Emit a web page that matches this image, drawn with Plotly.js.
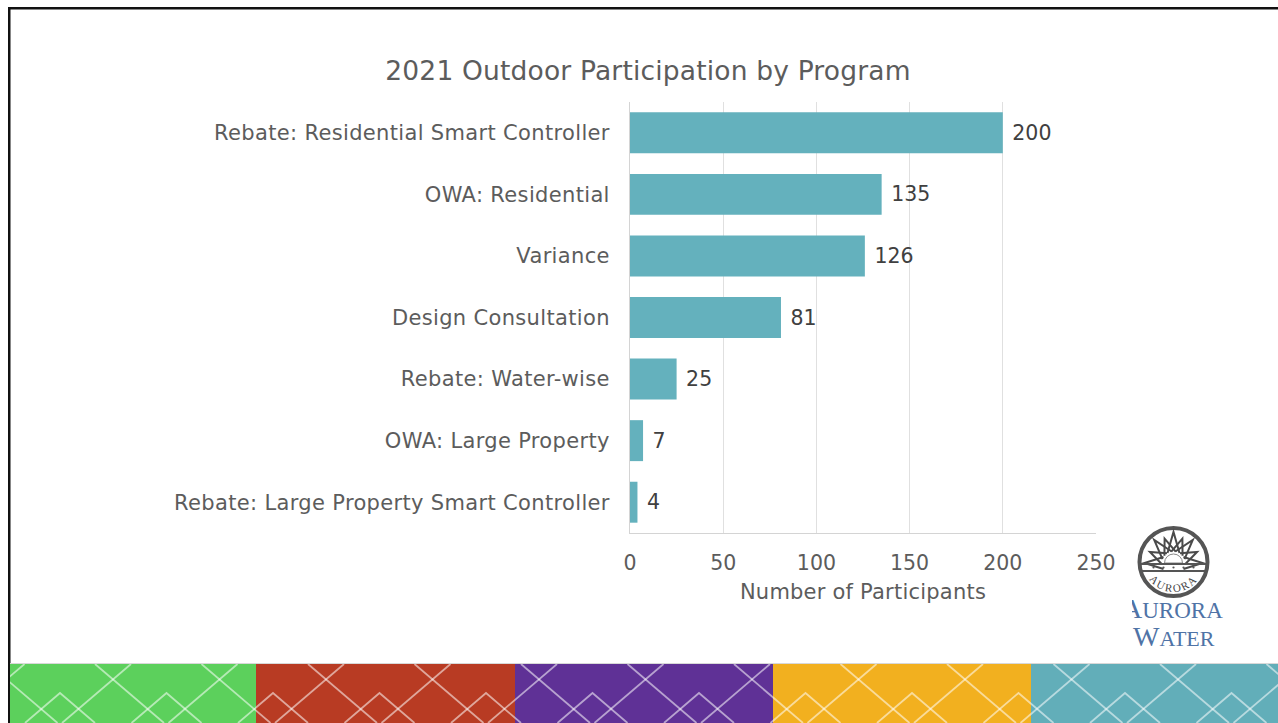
<!DOCTYPE html>
<html>
<head>
<meta charset="utf-8">
<script src="https://cdn.plot.ly/plotly-3.0.1.min.js"></script>
<style>
html,body{margin:0;padding:0;background:#fff;width:1278px;height:723px;overflow:hidden}
#deco{position:absolute;left:0;top:0;z-index:0}
#chart{position:absolute;left:0;top:0;width:1278px;height:723px;z-index:1}
#chart .ytick text{letter-spacing:.34px}
#chart .g-xtitle text{letter-spacing:.22px}
#chart .gtitle{letter-spacing:.17px}
</style>
</head>
<body>
<svg id="deco" width="1278" height="723" xmlns="http://www.w3.org/2000/svg"></svg>
<div id="chart"></div>
<script>
const categories = ["Rebate: Residential Smart Controller","OWA: Residential","Variance","Design Consultation","Rebate: Water-wise","OWA: Large Property","Rebate: Large Property Smart Controller"];
const participants = [200,135,126,81,25,7,4];
const xTicks = [0,50,100,150,200,250];
const bandColors = ["#5CD05C","#B83B23","#5F3196","#F2B01F","#62AEB9"];
const bandEdges = [10,256,515,773,1031,1278];

const FONT = '"DejaVu Sans", Verdana, sans-serif';
const NS = "http://www.w3.org/2000/svg";
const deco = document.getElementById("deco");
function el(name, attrs, parent, text){
  const e = document.createElementNS(NS, name);
  for (const k in attrs) e.setAttribute(k, attrs[k]);
  if (text) e.textContent = text;
  (parent || deco).appendChild(e);
  return e;
}
// slide frame
el("rect",{x:8,y:7,width:1270,height:2.5,fill:"#111"});
el("rect",{x:8,y:7,width:2.5,height:716,fill:"#111"});
// footer band
el("rect",{x:10,y:663,width:1268,height:1,fill:"#d8d8d8"});
bandColors.forEach((c,i)=>el("rect",{x:bandEdges[i],y:664,width:bandEdges[i+1]-bandEdges[i],height:59,fill:c}));
const clip = el("clipPath",{id:"bandClip"}); el("rect",{x:10,y:664,width:1268,height:59},clip);
const lines = el("g",{"clip-path":"url(#bandClip)",stroke:"rgba(255,255,255,0.55)","stroke-width":1.8,fill:"none"});
for (let k=-1;k<13;k++){
  const c = 113+106.5*k;
  el("path",{d:`M${c-18} 664L${c+51} 723`},lines);
  el("path",{d:`M${c+18} 664L${c-51} 723`},lines);
  el("path",{d:`M${c-88} 723L${c-53} 693L${c-18} 723`},lines);
}
// logo
const logo = el("g",{});
const cx=1173.5, cy=562;
el("circle",{cx,cy,r:34,fill:"#fff",stroke:"#555","stroke-width":4},logo);
[-180,-155,-130,-110,-90,-70,-50,-25,0].forEach((a,i)=>{
  const r=[29,26,30,26,31,26,30,26,29][i], ar=a*Math.PI/180, p=(a+90)*Math.PI/180, b=6;
  const bx=cx+10*Math.cos(ar), by=cy+1+10*Math.sin(ar);
  el("path",{d:`M${bx-b*Math.cos(p)} ${by-b*Math.sin(p)}L${cx+r*Math.cos(ar)} ${cy+1+r*Math.sin(ar)}L${bx+b*Math.cos(p)} ${by+b*Math.sin(p)}`,fill:"none",stroke:"#4a4a4a","stroke-width":2},logo);
});
el("path",{d:`M${cx-9} ${cy+1}A9 9 0 0 1 ${cx+9} ${cy+1}Z`,fill:"#fff",stroke:"#888","stroke-width":1},logo);
el("path",{d:`M${cx-33} ${cy+2}H${cx+33}M${cx-33} ${cy+9}H${cx+33}`,stroke:"#555","stroke-width":1.8,fill:"none"},logo);
[-20,-10,0,10,20].forEach(d=>el("circle",{cx:cx+d,cy:cy+5.5,r:1.1,fill:"#555"},logo));
el("path",{id:"arc",d:`M${cx-27} ${cy+13}A30 30 0 0 0 ${cx+27} ${cy+13}`,fill:"none"},logo);
const at = el("text",{"font-family":"Liberation Serif, serif","font-size":11,fill:"#444","letter-spacing":1.8,"text-anchor":"middle"},logo);
el("textPath",{href:"#arc",startOffset:"50%"},at,"AURORA");
const c2 = el("clipPath",{id:"logoClip"}); el("rect",{x:1132,y:590,width:120,height:70},c2);
const tg = el("g",{"clip-path":"url(#logoClip)","font-family":"Liberation Serif, serif",fill:"#4F73A6"},logo);
const t1 = el("text",{x:1122,y:618,"font-size":28},tg,"A");
el("tspan",{"font-size":23},t1,"URORA");
const t2 = el("text",{x:1133,y:646,"font-size":28},tg,"W");
el("tspan",{"font-size":22},t2,"ATER");

const trace = {
  type:"bar", orientation:"h",
  x:participants, y:categories,
  marker:{color:"#64B1BD",line:{width:0}},
  text:participants.map(v=>"\u00A0"+v), textposition:"outside",
  textfont:{family:FONT,size:20.5,color:"#404040"},
  cliponaxis:false, width:0.665, hoverinfo:"x+y"
};
const layout = {
  width:1278,height:723,
  margin:{l:629.5,r:182,t:102,b:190,pad:0},
  paper_bgcolor:"rgba(0,0,0,0)",plot_bgcolor:"rgba(0,0,0,0)",
  showlegend:false,
  title:{text:"2021 Outdoor Participation by Program",font:{family:FONT,size:26.5,color:"#5c5c5c"},x:648/1278,xref:"container",xanchor:"center",y:1-70.5/723,yref:"container",yanchor:"middle"},
  xaxis:{range:[0,250],tickvals:xTicks,ticktext:xTicks.map(String),showgrid:true,gridcolor:"#e0e0e0",gridwidth:1,zeroline:false,showline:true,linecolor:"#d4d4d4",linewidth:1,ticks:"outside",ticklen:11,tickcolor:"rgba(0,0,0,0)",tickfont:{family:FONT,size:20.5,color:"#5c5c5c"},title:{text:"Number of Participants",font:{family:FONT,size:21,color:"#5c5c5c"},standoff:10}},
  yaxis:{categoryorder:"array",categoryarray:categories,autorange:"reversed",showgrid:false,zeroline:false,showline:true,linecolor:"#d4d4d4",linewidth:1,ticks:"outside",ticklen:15,tickcolor:"rgba(0,0,0,0)",tickfont:{family:FONT,size:21,color:"#5c5c5c"}}
};
Plotly.newPlot("chart",[trace],layout,{displayModeBar:false,responsive:false});
</script>
</body>
</html>
